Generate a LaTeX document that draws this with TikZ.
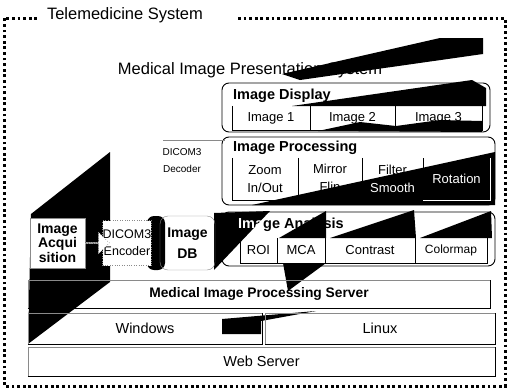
\documentclass[tikz,border=0pt]{standalone}
\usepackage{fontspec}
\setmainfont{Liberation Sans}
\usetikzlibrary{shapes.arrows}
\definecolor{TeleEdge}{HTML}{8A8A8A}
\tikzset{
  frame/.style={line width=3pt,dash pattern=on 2.8pt off 2.8pt},
  panel/.style={draw,line width=0.9pt,rounded corners=7pt,inner sep=0pt},
  cell/.style={inner sep=0pt,align=center,font=\fontsize{13}{18}\selectfont},
  celledge/.style={line width=0.6pt},
  slab/.style={inner sep=0pt,font=\fontsize{14.5}{16}\selectfont},
  slabedge/.style={line width=0.9pt},
  faint/.style={draw=TeleEdge,line width=0.4pt},
  shade/.style={fill=black},
  head/.style={anchor=west,inner sep=0pt,font=\bfseries\fontsize{14.5}{16}\selectfont},
  unit/.style={inner sep=0pt,align=center,font=\bfseries\fontsize{14}{15.5}\selectfont},
}
\begin{document}
\begin{tikzpicture}[x=1pt,y=-1pt]
  \useasboundingbox (0,0) rectangle (509,391);
  % shadows from the scan
  \fill[shade] (110,152) -- (31,214) -- (28,344) -- (110,282) -- cycle;
  \fill[shade] (282,74) -- (440,38) -- (483,38) -- (483,54) -- (300,80) -- cycle;
  \fill[shade] (292,106) -- (472,80) -- (486,88) -- (486,106) -- cycle;
  \fill[shade] (318,131) -- (360,122) -- (396,126) -- (440,120) -- (482,121) -- (482,132) -- cycle;
  \fill[shade] (252,205) -- (495,152) -- (495,205) -- cycle;
  \fill[shade,rounded corners=7pt] (147,216) rectangle (165,270);
  \fill[shade] (214,213) -- (270,211) -- (214,270) -- cycle;
  \fill[shade] (279,238) -- (326,211) -- (326,238) -- cycle;
  \fill[shade] (330,238) -- (414,210) -- (416,238) -- cycle;
  \fill[shade] (420,238) -- (491,211) -- (492,238) -- cycle;
  \fill[shade] (283,263) -- (326,263) -- (288,291) -- cycle;
  \fill[shade] (222,334) -- (222,319) -- (316,311) -- (261,321) -- (261,334) -- cycle;

  % outer frame
  \node[inner sep=0pt,font=\fontsize{16.5}{18}\selectfont] (tele) at (125,15) {Telemedicine System};
  \draw[frame] (238,18) -| (505,386) -| (4,18) -- (38,18);
  \node[inner sep=0pt,font=\fontsize{16.5}{18}\selectfont] (pres) at (250,70) {Medical Image Presentation System};

  % image display
  \node[panel,minimum width=268pt,minimum height=49pt] (disp) at (356,107.5) {};
  \node[head] at (233,96) {Image Display};
  \node[cell,minimum width=78pt,minimum height=24pt] (img1) at (271,118) {Image 1};
  \node[cell,minimum width=85pt,minimum height=24pt] (img2) at (352.5,118) {Image 2};
  \node[cell,minimum width=87pt,minimum height=24pt] (img3) at (438.5,118) {Image 3};
  \foreach \c in {img1,img2,img3}
    \draw[celledge] (\c.north west) |- (\c.south east) -- (\c.north east);

  % image processing
  \node[panel,minimum width=273pt,minimum height=68pt] (proc) at (358.5,171) {};
  \node[head] at (233,148) {Image Processing};
  \node[cell,minimum width=66pt,minimum height=42pt] (zoomc) at (265,179) {Zoom\\In/Out};
  \node[cell,minimum width=64pt,minimum height=42pt] (mirr) at (330,179) {Mirror\\Flip};
  \node[cell,minimum width=61pt,minimum height=42pt] (filt) at (392.5,179) {Filter\\\textcolor{white}{Smooth}};
  \node[cell,minimum width=67pt,minimum height=42pt,text=white] (rot) at (456.5,179) {Rotation};
  \foreach \c in {zoomc,mirr,filt}
    \draw[celledge] (\c.north west) |- (\c.south east) -- (\c.north east);
  \draw[celledge,white] (rot.north east) |- (rot.south west);

  \node[inner sep=0pt,align=center,font=\fontsize{10}{17}\selectfont] (dec) at (182,161) {DICOM3\\Decoder};
  \draw[faint] (163,140) -- (225,140);

  % image analysis
  \node[panel,minimum width=273pt,minimum height=54pt] (anal) at (358.5,239) {};
  \node[head] at (238,225) {\textcolor{white}{Ima}ge Analysis};
  \node[cell,minimum width=37pt,minimum height=25pt] (roi) at (258.5,250.5) {ROI};
  \node[cell,minimum width=48pt,minimum height=25pt] (mca) at (301,250.5) {MCA};
  \node[cell,minimum width=90pt,minimum height=25pt] (contr) at (370,250.5) {Contrast};
  \node[cell,minimum width=72pt,minimum height=25pt,font=\fontsize{12}{14}\selectfont] (cmap) at (451,250.5) {Colormap};
  \foreach \c in {roi,mca,contr,cmap}
    \draw[celledge] (\c.north west) |- (\c.south east) -- (\c.north east);

  % acquisition side
  \node[unit,faint,fill=white,minimum width=55pt,minimum height=50pt] (acq) at (57.5,243) {Image\\[-1pt]Acqui\\[-1pt]sition};
  \node[faint,dotted,fill=white,inner sep=0pt,align=center,minimum width=48pt,minimum height=45pt,
    font=\fontsize{12.5}{17}\selectfont] (enc) at (127,243) {DICOM3\\Encoder};
  \node[unit,faint,rounded corners=8pt,minimum width=55pt,minimum height=54pt] (db) at (187.5,243) {Image\\[5pt]DB};
  \node[single arrow,draw,dotted,fill=white,minimum height=24pt,minimum width=22pt,
    single arrow head extend=3pt,inner sep=0pt,anchor=tail] (arr) at (acq.east) {};

  % server layers
  \node[slab,font=\bfseries\fontsize{13.8}{16}\selectfont,minimum width=462pt,minimum height=28pt] (srv) at (259,294) {Medical Image Processing Server};
  \node[slab,minimum width=234pt,minimum height=31pt] (win) at (145,328.5) {Windows};
  \node[slab,minimum width=230pt,minimum height=31pt] (lin) at (380,328.5) {Linux};
  \node[slab,minimum width=467pt,minimum height=29pt] (web) at (261.5,361.5) {Web Server};
  \foreach \c in {srv,win,lin,web}{
    \draw[faint] (\c.south west) |- (\c.north east);
    \draw[slabedge] (\c.south west) -| (\c.north east);
  }
\end{tikzpicture}
\end{document}
